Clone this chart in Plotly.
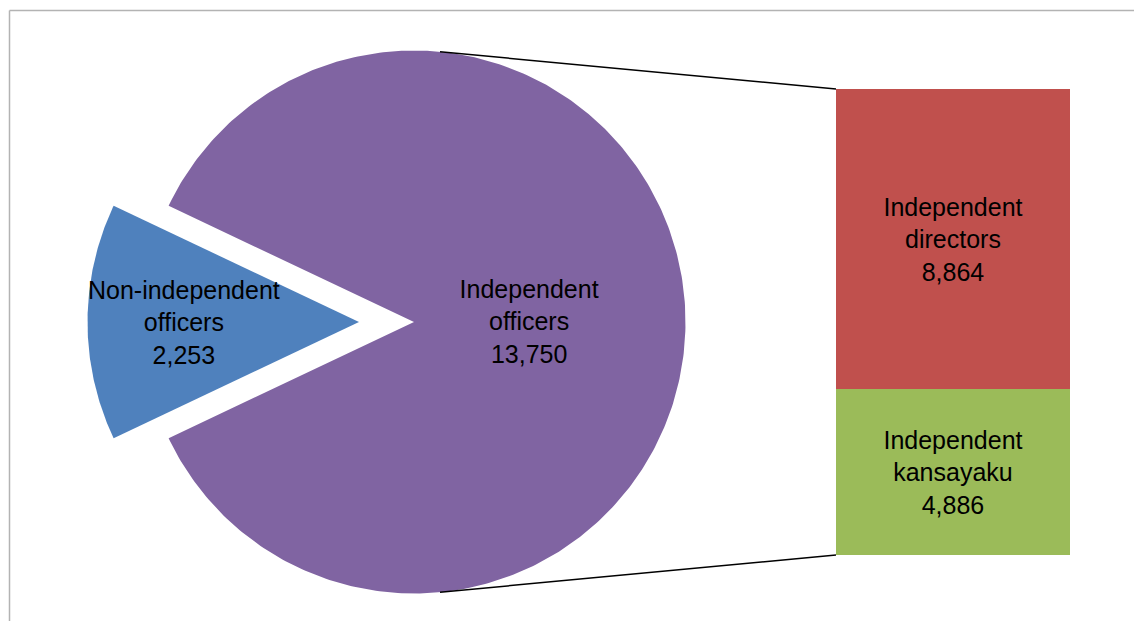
import numpy as np
import plotly.graph_objects as go

# data
pie_labels = ["Non-independent<br>officers", "Independent<br>officers"]
pie_values = [2253, 13750]
bar_labels = ["Independent<br>kansayaku", "Independent<br>directors"]
bar_values = [4886, 8864]

pie_colors = ["#4F81BD", "#8064A2"]
bar_colors = ["#9BBB59", "#C0504D"]

W, H = 1134, 621
FONT = "Liberation Sans, Arial, sans-serif"
FS = 25

# pie geometry in pixels
cx, cy, r = 414, 322, 271.5
explode = 55
# bar box in pixels
bx0, bx1, by0, by1 = 836, 1070, 89, 555

half = np.pi * pie_values[0] / sum(pie_values)

fig = go.Figure()

# exploded small slice, centred on the left
t = np.linspace(np.pi - half, np.pi + half, 120)
tx, ty = cx - explode, cy
xs = np.concatenate([[tx], tx + r * np.cos(t), [tx]])
ys = np.concatenate([[ty], ty - r * np.sin(t), [ty]])
fig.add_trace(go.Scatter(x=xs, y=ys, fill="toself", fillcolor=pie_colors[0],
                         line=dict(width=0), mode="lines", hoverinfo="skip"))

# big slice
t = np.linspace(-(np.pi - half), np.pi - half, 400)
xs = np.concatenate([[cx], cx + r * np.cos(t), [cx]])
ys = np.concatenate([[cy], cy - r * np.sin(t), [cy]])
fig.add_trace(go.Scatter(x=xs, y=ys, fill="toself", fillcolor=pie_colors[1],
                         line=dict(width=0), mode="lines", hoverinfo="skip"))

# pie labels
lab_x = [tx - 0.645 * r, cx + 0.424 * r]
lab_y = [cy + 3, cy + 2]
fig.add_trace(go.Scatter(
    x=lab_x, y=lab_y, mode="text",
    text=[f"{l}<br>{v:,}" for l, v in zip(pie_labels, pie_values)],
    textposition="middle center",
    textfont=dict(family=FONT, size=FS, color="black"), hoverinfo="skip"))

# connector lines from top / bottom of the pie to the bar
a = np.deg2rad(84.5)
for sgn, by in [(1, by0), (-1, by1)]:
    fig.add_trace(go.Scatter(x=[cx + r * np.cos(a), bx0], y=[cy - sgn * r * np.sin(a), by],
                             mode="lines", line=dict(color="black", width=1.5),
                             hoverinfo="skip"))

# stacked bar on its own axes
for l, v, c in zip(bar_labels, bar_values, bar_colors):
    fig.add_trace(go.Bar(x=[0], y=[v], marker=dict(color=c, line=dict(width=0)),
                         text=[f"{l}<br>{v:,}"], textposition="inside",
                         insidetextanchor="middle", textangle=0,
                         constraintext="none",
                         textfont=dict(family=FONT, size=FS, color="black"),
                         width=1, xaxis="x2", yaxis="y2", hoverinfo="skip"))

fig.update_layout(
    width=W, height=H, margin=dict(l=0, r=0, t=0, b=0),
    paper_bgcolor="white", plot_bgcolor="rgba(0,0,0,0)",
    showlegend=False, barmode="stack", bargap=0,
    xaxis=dict(range=[0, W], visible=False, fixedrange=True),
    yaxis=dict(range=[H, 0], visible=False, fixedrange=True),
    xaxis2=dict(domain=[bx0 / W, bx1 / W], range=[-0.5, 0.5], visible=False,
                anchor="y2", fixedrange=True),
    yaxis2=dict(domain=[(H - by1) / H, (H - by0) / H], range=[0, sum(bar_values)],
                visible=False, anchor="x2", fixedrange=True),
    shapes=[
        dict(type="line", xref="x", yref="y", x0=9.5, x1=W, y0=10.5, y1=10.5,
             line=dict(color="#b3b3b3", width=1.5)),
        dict(type="line", xref="x", yref="y", x0=9.5, x1=9.5, y0=10.5, y1=H,
             line=dict(color="#b3b3b3", width=1.5)),
    ],
)

# drop the browser's default page margin so the figure sits at 0,0
fig.write_html("out.html", config={"displayModeBar": False},
               post_script="document.body.style.margin='0';")
